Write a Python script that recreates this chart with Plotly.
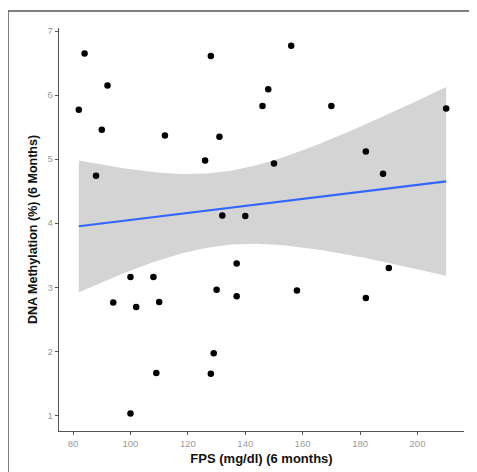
import numpy as np
import plotly.graph_objects as go

fps = [82, 84, 88, 90, 92, 94, 100, 100, 102, 108, 109, 110, 112, 126, 128, 128, 129,
       130, 131, 132, 137, 137, 140, 146, 148, 150, 156, 158, 170, 182, 182, 188, 190, 210]
meth = [5.77, 6.65, 4.74, 5.46, 6.15, 2.76, 3.16, 1.03, 2.69, 3.16, 1.66, 2.77, 5.37, 4.98,
        6.61, 1.65, 1.97, 2.96, 5.35, 4.12, 2.86, 3.37, 4.11, 5.83, 6.09, 4.93, 6.77, 2.95,
        5.83, 5.12, 2.83, 4.77, 3.30, 5.79]
x_ticks = [80, 100, 120, 140, 160, 180, 200]
y_ticks = [1, 2, 3, 4, 5, 6, 7]

x = np.array(fps, dtype=float)
y = np.array(meth, dtype=float)
n = len(x)
b1, b0 = np.polyfit(x, y, 1)
resid = y - (b0 + b1 * x)
s = np.sqrt(np.sum(resid ** 2) / (n - 2))
sxx = np.sum((x - x.mean()) ** 2)
t_crit = 2.0369
xs = np.linspace(x.min(), x.max(), 80)
fit = b0 + b1 * xs
se = s * np.sqrt(1 / n + (xs - x.mean()) ** 2 / sxx)
lo = fit - t_crit * se
hi = fit + t_crit * se

fig = go.Figure()
fig.add_trace(go.Scatter(x=np.concatenate([xs, xs[::-1]]), y=np.concatenate([hi, lo[::-1]]),
                         fill="toself", fillcolor="#D4D4D4", line=dict(width=0),
                         mode="lines", hoverinfo="skip", showlegend=False))
fig.add_trace(go.Scatter(x=xs, y=fit, mode="lines", line=dict(color="#3366FF", width=2.2),
                         showlegend=False))
fig.add_trace(go.Scatter(x=fps, y=meth, mode="markers",
                         marker=dict(color="black", size=6.5), showlegend=False))

axis_common = dict(showgrid=False, zeroline=False, showline=True, linecolor="#555555",
                   linewidth=1.4, ticks="outside", ticklen=3, tickcolor="#555555",
                   tickwidth=1, automargin=False,
                   tickfont=dict(family="Liberation Sans, Arial", size=9.5, color="#999999"))
fig.update_layout(
    width=469, height=464,
    margin=dict(l=51, r=13, t=20, b=41),
    plot_bgcolor="white", paper_bgcolor="white",
    xaxis=dict(range=[75.1, 216.2], tickvals=x_ticks,
               title=dict(text="<b>FPS (mg/dl) (6 months)</b>", standoff=6,
                          font=dict(family="Liberation Sans, Arial", size=13, color="#111111")),
               **axis_common),
    yaxis=dict(range=[0.755, 7.047], tickvals=y_ticks,
               title=dict(text="<b>DNA Methylation (%) (6 Months)</b>", standoff=7,
                          font=dict(family="Liberation Sans, Arial", size=12.5, color="#111111")),
               **axis_common),
    shapes=[
        dict(type="line", xref="paper", yref="paper", x0=-0.1259, x1=-0.1259, y0=1.042, y1=-0.102,
             line=dict(color="#555555", width=1.5)),
        dict(type="line", xref="paper", yref="paper", x0=-0.1259, x1=1.032, y0=1.042, y1=1.042,
             line=dict(color="#555555", width=1.5)),
    ],
)
fig.write_html("out.html", post_script="document.body.style.overflow='hidden';")
